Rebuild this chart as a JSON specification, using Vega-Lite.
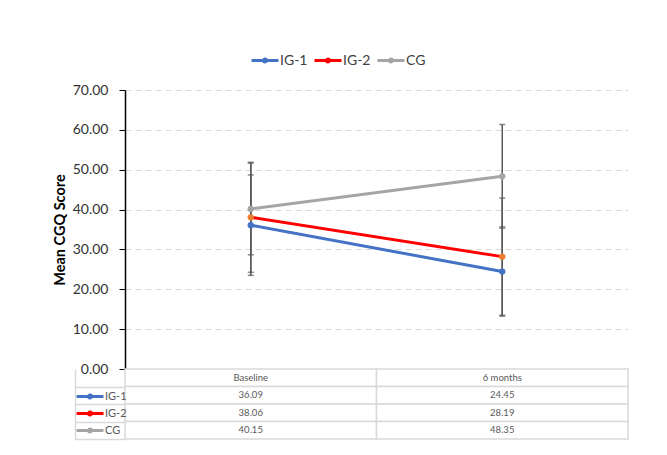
{
  "$schema": "https://vega.github.io/schema/vega-lite/v6.json",
  "padding": {"left": 52, "top": 53, "right": 20, "bottom": 10},
  "background": "white",
  "datasets": {
    "scores": [
      {"group": "IG-1", "time": "Baseline", "value": 36.09, "lower": 23.49, "upper": 48.69},
      {"group": "IG-1", "time": "6 months", "value": 24.45, "lower": 13.25, "upper": 35.65},
      {"group": "IG-2", "time": "Baseline", "value": 38.06, "lower": 24.26, "upper": 51.86},
      {"group": "IG-2", "time": "6 months", "value": 28.19, "lower": 13.49, "upper": 42.89},
      {"group": "CG", "time": "Baseline", "value": 40.15, "lower": 28.65, "upper": 51.65},
      {"group": "CG", "time": "6 months", "value": 48.35, "lower": 35.35, "upper": 61.35}
    ],
    "header": [
      {"group": "header", "time": "Baseline"},
      {"group": "header", "time": "6 months"}
    ]
  },
  "spacing": 0,
  "bounds": "flush",
  "vconcat": [
    {
      "width": 503,
      "height": 279,
      "data": {"name": "scores"},
      "encoding": {
        "x": {"field": "time", "type": "nominal", "scale": {"type": "point", "padding": 0.5, "domain": ["Baseline", "6 months"]}, "axis": null}
      },
      "layer": [
        {
          "mark": {"type": "rule", "color": "#595959", "strokeWidth": 1.5},
          "encoding": {
            "y": {"field": "lower", "type": "quantitative", "title": "Mean CGQ Score", "scale": {"domain": [0, 70], "nice": false}, "axis": {"values": [0, 10, 20, 30, 40, 50, 60, 70], "format": ".2f"}},
            "y2": {"field": "upper"}
          }
        },
        {
          "mark": {"type": "tick", "color": "#595959", "thickness": 1.5, "size": 6},
          "encoding": {"y": {"field": "lower", "type": "quantitative", "title": "Mean CGQ Score", "axis": {"values": [0, 10, 20, 30, 40, 50, 60, 70], "format": ".2f"}}}
        },
        {
          "mark": {"type": "tick", "color": "#595959", "thickness": 1.5, "size": 6},
          "encoding": {"y": {"field": "upper", "type": "quantitative", "title": "Mean CGQ Score", "axis": {"values": [0, 10, 20, 30, 40, 50, 60, 70], "format": ".2f"}}}
        },
        {
          "mark": {"type": "line", "strokeWidth": 3},
          "encoding": {
            "y": {"field": "value", "type": "quantitative", "title": "Mean CGQ Score", "axis": {"values": [0, 10, 20, 30, 40, 50, 60, 70], "format": ".2f"}},
            "color": {
              "field": "group", "type": "nominal",
              "scale": {"domain": ["IG-1", "IG-2", "CG"], "range": ["#4472c4", "#ff0000", "#a5a5a5"]},
              "legend": {"orient": "none", "legendX": 140, "legendY": -37, "title": null, "direction": "horizontal", "padding": 0, "labelFontSize": 14, "labelColor": "#404040", "columnPadding": 0, "labelOffset": 0}
            }
          }
        },
        {
          "mark": {"type": "circle", "size": 40, "opacity": 1},
          "encoding": {
            "y": {"field": "value", "type": "quantitative", "title": "Mean CGQ Score", "axis": {"values": [0, 10, 20, 30, 40, 50, 60, 70], "format": ".2f"}},
            "fill": {"field": "group", "type": "nominal", "scale": {"domain": ["IG-1", "IG-2", "CG"], "range": ["#4472c4", "#ed7d31", "#a5a5a5"]}, "legend": null}
          }
        }
      ]
    },
    {
      "width": 503,
      "height": 70,
      "encoding": {
        "x": {"field": "time", "type": "nominal", "scale": {"type": "band", "domain": ["Baseline", "6 months"], "paddingInner": 0, "paddingOuter": 0}, "axis": null},
        "y": {
          "field": "group", "type": "nominal",
          "scale": {"type": "band", "domain": ["header", "IG-1", "IG-2", "CG"], "paddingInner": 0, "paddingOuter": 0},
          "axis": {"title": null, "values": ["header", "IG-1", "IG-2", "CG"], "tickOffset": 8.75, "offset": 50, "tickSize": -50, "tickColor": "#d9d9d9", "tickWidth": 1.5, "domain": true, "domainColor": "#d9d9d9", "domainWidth": 1.5, "labels": false, "grid": false}
        }
      },
      "layer": [
        {"data": {"name": "header"}, "mark": {"type": "rect", "fill": "white", "stroke": "#d9d9d9", "strokeWidth": 1.5}},
        {"data": {"name": "scores"}, "mark": {"type": "rect", "fill": "white", "stroke": "#d9d9d9", "strokeWidth": 1.5}},
        {"data": {"name": "header"}, "mark": {"type": "text", "fontSize": 9.5, "color": "#595959"}, "encoding": {"text": {"field": "time", "type": "nominal"}}},
        {"data": {"name": "scores"}, "mark": {"type": "text", "fontSize": 9.5, "color": "#595959"}, "encoding": {"text": {"field": "value", "type": "quantitative", "format": ".2f"}}},
        {
          "data": {"name": "scores"},
          "transform": [{"filter": "datum.time === 'Baseline'"}],
          "mark": {"type": "line", "strokeWidth": 3},
          "encoding": {
            "color": {
              "field": "group", "type": "nominal",
              "scale": {"domain": ["IG-1", "IG-2", "CG"], "range": ["#4472c4", "#ff0000", "#a5a5a5"]},
              "legend": {"orient": "none", "legendX": -37, "legendY": 18, "direction": "vertical", "title": null, "padding": 2, "rowPadding": 2, "labelFontSize": 11, "labelColor": "#595959", "labelOffset": 0}
            }
          }
        }
      ]
    }
  ],
  "resolve": {
    "scale": {"x": "independent", "y": "independent", "color": "independent"},
    "legend": {"color": "independent"}
  },
  "config": {
    "font": "Lato",
    "view": {"stroke": null},
    "axisY": {
      "grid": true, "gridDash": [6, 4], "gridColor": "#d9d9d9", "gridWidth": 1,
      "domainColor": "black", "domainWidth": 1.5,
      "tickColor": "black", "tickSize": 6, "tickWidth": 1,
      "labelFontSize": 14, "labelColor": "#333333", "labelPadding": 11,
      "titleFontSize": 14.5, "titleFontWeight": "bold", "titleColor": "black", "titlePadding": 5
    },
    "legend": {
      "symbolType": "M-3.5,0H1M-1,0A0.25,0.25 0 1,1 -1.5,0A0.25,0.25 0 1,1 -1,0Z",
      "symbolSize": 144,
      "symbolStrokeWidth": 3
    }
  }
}
